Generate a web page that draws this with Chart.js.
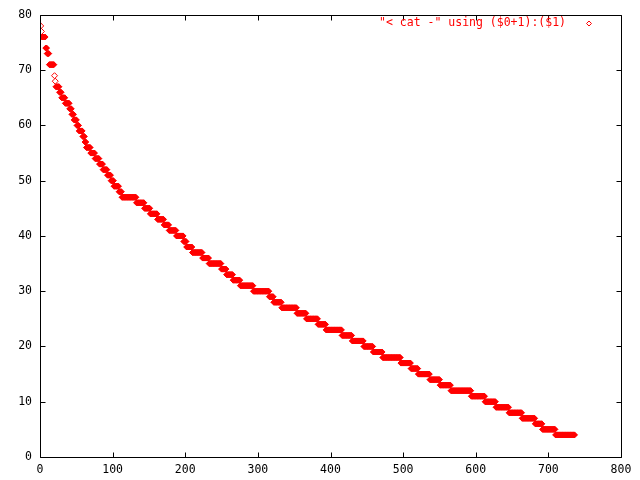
<!DOCTYPE html>
<html>
<head>
<meta charset="utf-8">
<script src="https://cdn.jsdelivr.net/npm/chart.js@4/dist/chart.umd.min.js"></script>
<style>
  html, body { margin: 0; padding: 0; background: #ffffff; }
  #wrap { width: 640px; height: 480px; }
</style>
</head>
<body>
<div id="wrap"><canvas id="c" width="640" height="480"></canvas></div>
<script>
// Sorted values: each level and the last row index where it occurs
const levels  = [78, 77, 76, 74, 73, 71, 69, 68, 67, 66, 65, 64, 63, 62, 61, 60, 59, 58, 57, 56,
                 55, 54, 53, 52, 51, 50, 49, 48, 47, 46, 45, 44, 43, 42, 41, 40, 39, 38, 37, 36,
                 35, 34, 33, 32, 31, 30, 29, 28, 27, 26, 25, 24, 23, 22, 21, 20, 19, 18, 17, 16,
                 15, 14, 13, 12, 11, 10, 9, 8, 7, 6, 5, 4];
const runEnds = [1, 2, 7, 9, 12, 19, 20, 21, 26, 29, 34, 40, 43, 46, 50, 53, 58, 61, 63, 69,
                 75, 81, 86, 92, 97, 101, 108, 112, 132, 143, 151, 161, 170, 177, 187, 197, 201, 209, 223, 232,
                 249, 256, 265, 275, 293, 315, 321, 332, 353, 366, 382, 393, 415, 429, 445, 458, 471, 496, 510, 520,
                 536, 550, 565, 593, 612, 627, 645, 663, 681, 691, 709, 736];
const xTicks = [0, 100, 200, 300, 400, 500, 600, 700, 800];
const yTicks = [0, 10, 20, 30, 40, 50, 60, 70, 80];
const legendLabel = '"< cat -" using ($0+1):($1)';

// Expand runs into rows: x = row number ($0+1), y = value ($1)
const points = [];
let row = 1;
for (let i = 0; i < levels.length; i++) {
  for (; row <= runEnds[i]; row++) points.push({ x: row, y: levels[i] });
}

const FONT = '11.5px "DejaVu Sans Mono", "Liberation Mono", monospace';

const framePlugin = {
  id: 'gnuplotFrame',
  afterDatasetsDraw(chart) {
    const ctx = chart.ctx;
    const a = chart.chartArea;
    const xs = chart.scales.x, ys = chart.scales.y;
    const L = Math.round(a.left) + 0.5, R = Math.round(a.right) + 0.5;
    const T = Math.round(a.top) + 0.5, B = Math.round(a.bottom) + 0.5;
    const tl = 5;
    ctx.save();
    ctx.strokeStyle = '#000000';
    ctx.lineWidth = 1;
    ctx.beginPath();
    ctx.rect(L, T, R - L, B - T);
    xTicks.forEach(v => {
      const px = Math.round(xs.getPixelForValue(v)) + 0.5;
      ctx.moveTo(px, B); ctx.lineTo(px, B - tl);
      ctx.moveTo(px, T); ctx.lineTo(px, T + tl);
    });
    yTicks.forEach(v => {
      const py = Math.round(ys.getPixelForValue(v)) + 0.5;
      ctx.moveTo(L, py); ctx.lineTo(L + tl, py);
      ctx.moveTo(R, py); ctx.lineTo(R - tl, py);
    });
    ctx.stroke();

    // key (legend) in the top-right corner, gnuplot style: text then sample
    ctx.font = FONT;
    ctx.fillStyle = '#ff0000';
    ctx.textAlign = 'right';
    ctx.textBaseline = 'middle';
    ctx.fillText(legendLabel, 566, 23.5);
    ctx.strokeStyle = '#ff0000';
    ctx.beginPath();
    const cx = 589, cy = 23.5, r = 2.5;
    ctx.moveTo(cx - r, cy); ctx.lineTo(cx, cy - r); ctx.lineTo(cx + r, cy); ctx.lineTo(cx, cy + r);
    ctx.closePath();
    ctx.stroke();
    ctx.restore();
  }
};

// isolated rows (no neighbour with the same value) show as hollow diamonds, runs merge into solid bars
function pointFill(ctx) {
  const d = ctx.dataset.data, i = ctx.dataIndex;
  if (!d[i]) return '#ff0000';
  const prev = d[i - 1], next = d[i + 1];
  const alone = (!prev || prev.y !== d[i].y) && (!next || next.y !== d[i].y);
  return alone ? 'rgba(255,0,0,0)' : '#ff0000';
}

new Chart(document.getElementById('c'), {
  type: 'scatter',
  data: {
    datasets: [{
      label: legendLabel,
      data: points,
      pointStyle: 'rectRot',
      pointRadius: 3,
      pointBorderWidth: 1,
      borderColor: '#ff0000',
      backgroundColor: pointFill,
      pointBackgroundColor: pointFill,
      pointHoverRadius: 3
    }]
  },
  options: {
    responsive: false,
    animation: false,
    devicePixelRatio: 1,
    layout: { padding: { top: 13, right: 19, left: 0, bottom: 0 } },
    plugins: { legend: { display: false }, tooltip: { enabled: false } },
    scales: {
      x: {
        type: 'linear', min: 0, max: 800,
        afterBuildTicks: s => { s.ticks = xTicks.map(v => ({ value: v })); },
        afterFit: s => { s.height = 23; },
        grid: { display: false, drawTicks: false },
        border: { display: false },
        ticks: { autoSkip: false, maxRotation: 0, padding: 6, color: '#000000',
                 font: { family: '"DejaVu Sans Mono", "Liberation Mono", monospace', size: 11.5 } }
      },
      y: {
        type: 'linear', min: 0, max: 80,
        afterBuildTicks: s => { s.ticks = yTicks.map(v => ({ value: v })); },
        afterFit: s => { s.width = 40; },
        grid: { display: false, drawTicks: false },
        border: { display: false },
        ticks: { autoSkip: false, padding: 8, color: '#000000',
                 font: { family: '"DejaVu Sans Mono", "Liberation Mono", monospace', size: 11.5 } }
      }
    }
  },
  plugins: [framePlugin]
});
</script>
</body>
</html>
